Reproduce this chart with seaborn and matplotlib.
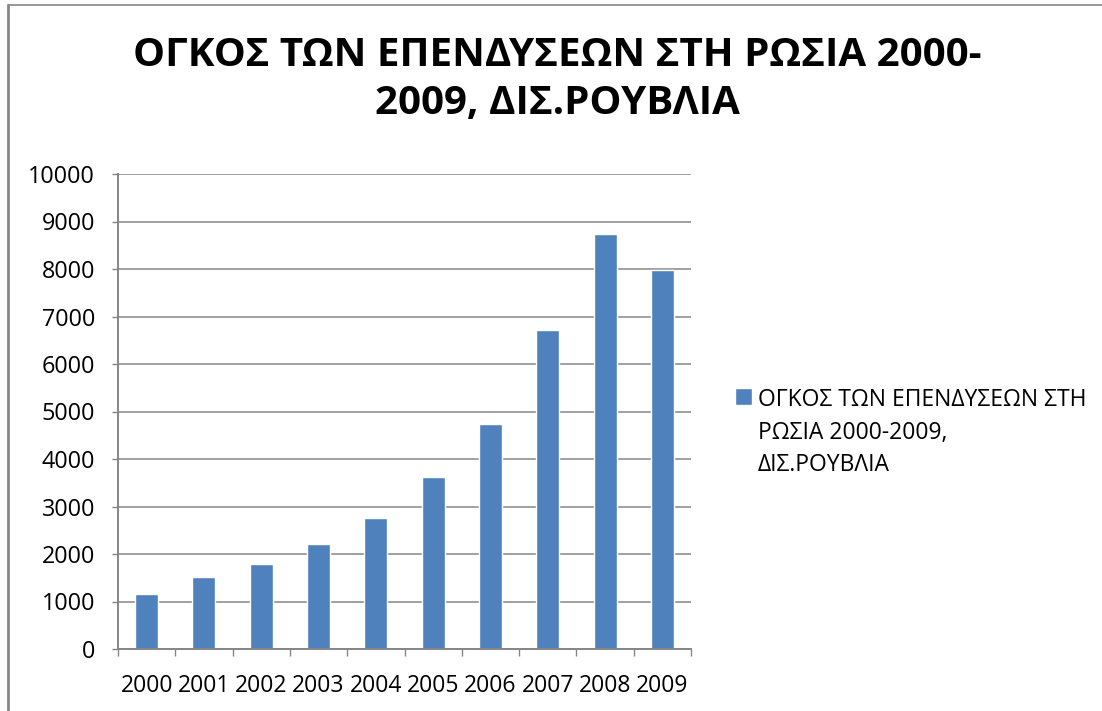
import matplotlib
matplotlib.use("Agg")
import pandas as pd
import seaborn as sns
import matplotlib.pyplot as plt
from matplotlib.lines import Line2D

# -- Data
years = ["2000", "2001", "2002", "2003", "2004", "2005", "2006", "2007", "2008", "2009"]
investment = [1160, 1520, 1790, 2210, 2760, 3620, 4740, 6720, 8740, 7980]
y_ticks = [0, 1000, 2000, 3000, 4000, 5000, 6000, 7000, 8000, 9000, 10000]
title_text = "ΟΓΚΟΣ ΤΩΝ ΕΠΕΝΔΥΣΕΩΝ ΣΤΗ ΡΩΣΙΑ 2000-\n2009, ΔΙΣ.ΡΟΥΒΛΙΑ"
legend_label = "ΟΓΚΟΣ ΤΩΝ ΕΠΕΝΔΥΣΕΩΝ ΣΤΗ\nΡΩΣΙΑ 2000-2009,\nΔΙΣ.ΡΟΥΒΛΙΑ"

bar_color = "#4F81BD"
grey = "#868686"

sns.set_style("white")
plt.rcParams['font.family'] = ['Open Sans', 'DejaVu Sans']
plt.rcParams['text.color'] = 'black'
plt.rcParams['xtick.labelcolor'] = 'black'
plt.rcParams['ytick.labelcolor'] = 'black'

df = pd.DataFrame({"year": years, "value": investment, "series": legend_label})

fig = plt.figure(figsize=(11.02, 7.11), dpi=100)
ax = fig.add_axes([118 / 1102, 62 / 711, 573 / 1102, 475 / 711])

sns.barplot(data=df, x="year", y="value", hue="series", palette=[bar_color],
            width=0.4, saturation=1, ax=ax)

ax.set_xlim(-0.5, len(years) - 0.5)
ax.set_ylim(0, 10000)
ax.set_yticks(y_ticks)
ax.set_xlabel("")
ax.set_ylabel("")

# gridlines and axes in Excel grey
ax.set_axisbelow(True)
ax.yaxis.grid(True, color=grey, linewidth=1.1)
ax.xaxis.grid(False)
for side in ["top", "right"]:
    ax.spines[side].set_visible(False)
for side in ["left", "bottom"]:
    ax.spines[side].set_color(grey)
    ax.spines[side].set_linewidth(1.4)

ax.tick_params(axis="y", direction="out", length=4.5, width=1, color=grey,
               pad=12, labelsize=16.8, left=True, labelcolor="black")
ax.tick_params(axis="x", which="major", length=0, pad=18, labelsize=16.5,
               labelcolor="black")
ax.set_xticks([i - 0.5 for i in range(len(years) + 1)], minor=True)
ax.tick_params(axis="x", which="minor", direction="out", length=5, width=1,
               color=grey, bottom=True)

# legend to the right, no frame
sns.move_legend(ax, "center left", bbox_to_anchor=(1.077, 0.455), frameon=False,
                title=None, borderpad=0, borderaxespad=0, handlelength=0.75,
                handleheight=0.75, handletextpad=0.25, fontsize=16.5)
leg = ax.get_legend()
for t in leg.get_texts():
    t.set_linespacing(1.47)
    t.set_color("black")
# put the square next to the first line of the label, as Excel does
for col in leg._legend_handle_box.get_children():
    for item in col.get_children():
        item.align = "top"

fig.text(0.506, 1 - 36 / 711, title_text, ha="center", va="top",
         fontsize=29, fontweight="bold", linespacing=1.3, color="black")

# chart frame (left and top edge visible)
fig.add_artist(Line2D([8 / 1102, 8 / 1102], [0, 1 - 5 / 711], color=grey,
                      linewidth=2, transform=fig.transFigure))
fig.add_artist(Line2D([8 / 1102, 1], [1 - 5 / 711, 1 - 5 / 711], color=grey,
                      linewidth=1.2, transform=fig.transFigure))

fig.savefig("out.png", dpi=100)
